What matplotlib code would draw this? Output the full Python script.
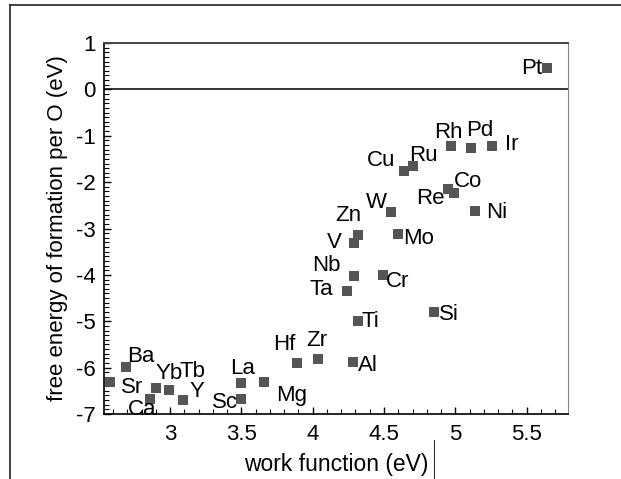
import matplotlib
matplotlib.use("Agg")
import matplotlib.pyplot as plt
from matplotlib.lines import Line2D
from matplotlib.ticker import MultipleLocator

# element, work function (eV), free energy of formation per O (eV)
elements = ["Pt", "Rh", "Pd", "Ir", "Cu", "Ru", "Re", "Co", "Ni", "W",
            "Zn", "V", "Mo", "Nb", "Cr", "Ta", "Si", "Ti", "Al", "Zr",
            "Hf", "La", "Mg", "Sc", "Y", "Tb", "Yb", "Ca", "Sr", "Ba"]
work_function = [5.64, 4.97, 5.11, 5.26, 4.64, 4.70, 4.95, 4.99, 5.14, 4.55,
                 4.32, 4.29, 4.60, 4.29, 4.49, 4.24, 4.85, 4.32, 4.28, 4.04,
                 3.89, 3.50, 3.66, 3.50, 3.09, 2.99, 2.90, 2.86, 2.58, 2.69]
free_energy = [0.47, -1.23, -1.27, -1.23, -1.75, -1.66, -2.15, -2.24, -2.63, -2.65,
               -3.15, -3.32, -3.12, -4.03, -4.00, -4.34, -4.81, -5.00, -5.87, -5.81,
               -5.89, -6.33, -6.31, -6.68, -6.69, -6.48, -6.45, -6.68, -6.30, -5.98]

# label offsets (points) from each marker
label_offsets = {
    "Pt": (-10.5, -1), "Rh": (-2, 10), "Pd": (6.5, 12.5), "Ir": (14, 1.5),
    "Cu": (-16.5, 7.5), "Ru": (8, 7.5), "Re": (-12.5, -6.5), "Co": (10.5, 8.5),
    "Ni": (15.5, -1), "W": (-10.5, 7), "Zn": (-7, 14.5), "V": (-14, 0.5),
    "Mo": (14.5, -3.5), "Nb": (-20, 7.5), "Cr": (11, -5), "Ta": (-18.5, 0.5),
    "Si": (11, -1.5), "Ti": (9, 0), "Al": (11, -3), "Zr": (-1.5, 13.5),
    "Hf": (-9.5, 13), "La": (1, 10.5), "Mg": (19.5, -10), "Sc": (-11.5, -2.5),
    "Y": (10, 5.5), "Tb": (17.5, 13), "Yb": (9.5, 11), "Ca": (-6, -7.5),
    "Sr": (16, -4), "Ba": (11, 7),
}

plt.rcParams['font.family'] = ['Liberation Sans', 'DejaVu Sans']
fig = plt.figure(figsize=(6.21, 4.79), dpi=100)
ax = fig.add_axes([0.1675, 0.1357, 0.7472, 0.7745])

ax.plot(work_function, free_energy, 's', color='#555555', markersize=6.5, markeredgewidth=0)
ax.axhline(0, color='black', linewidth=1.1)

for name, x, y in zip(elements, work_function, free_energy):
    dx, dy = label_offsets[name]
    ax.annotate(name, (x, y), xytext=(dx, dy), textcoords='offset points',
                ha='center', va='center', fontsize=16)

ax.set_xlim(2.537, 5.79)
ax.set_ylim(-7, 1)
ax.xaxis.set_minor_locator(MultipleLocator(0.1))
ax.yaxis.set_minor_locator(MultipleLocator(0.1))
ax.set_yticks(range(-7, 2))
ax.set_yticklabels([str(v) for v in range(-7, 2)])
ax.set_xticks([3, 3.5, 4, 4.5, 5, 5.5])
ax.set_xticklabels(["3", "3.5", "4", "4.5", "5", "5.5"])
ax.tick_params(which='both', direction='in', top=False, right=False, labelsize=16)
ax.tick_params(which='major', length=5, width=1)
ax.tick_params(which='minor', length=3.5, width=0.8)
ax.tick_params(axis='y', pad=6)
ax.tick_params(axis='x', pad=7)

ax.spines['left'].set_linewidth(1.2)
ax.spines['bottom'].set_linewidth(1.2)
ax.spines['top'].set_color('#444444')
ax.spines['top'].set_linewidth(1.4)
ax.spines['right'].set_color('#888888')
ax.spines['right'].set_linewidth(0.8)

fig.text(58 / 621, 0.523, "free energy of formation per O (eV)", rotation=90,
         ha='center', va='center', fontsize=16)
fig.text(336 / 621, 1 - 464 / 479, "work function (eV)", ha='center', va='center', fontsize=16.5)

# page frame
fig.add_artist(Line2D([10 / 621, 1.0], [1 - 5 / 479, 1 - 5 / 479], color='#222222', linewidth=1.2))
fig.add_artist(Line2D([10 / 621, 10 / 621], [0.0, 1 - 5 / 479], color='#222222', linewidth=1.2))
fig.add_artist(Line2D([434 / 621, 434 / 621], [0.0, 1 - 440 / 479], color='#333333', linewidth=0.8))

fig.savefig("out.png", dpi=100)
